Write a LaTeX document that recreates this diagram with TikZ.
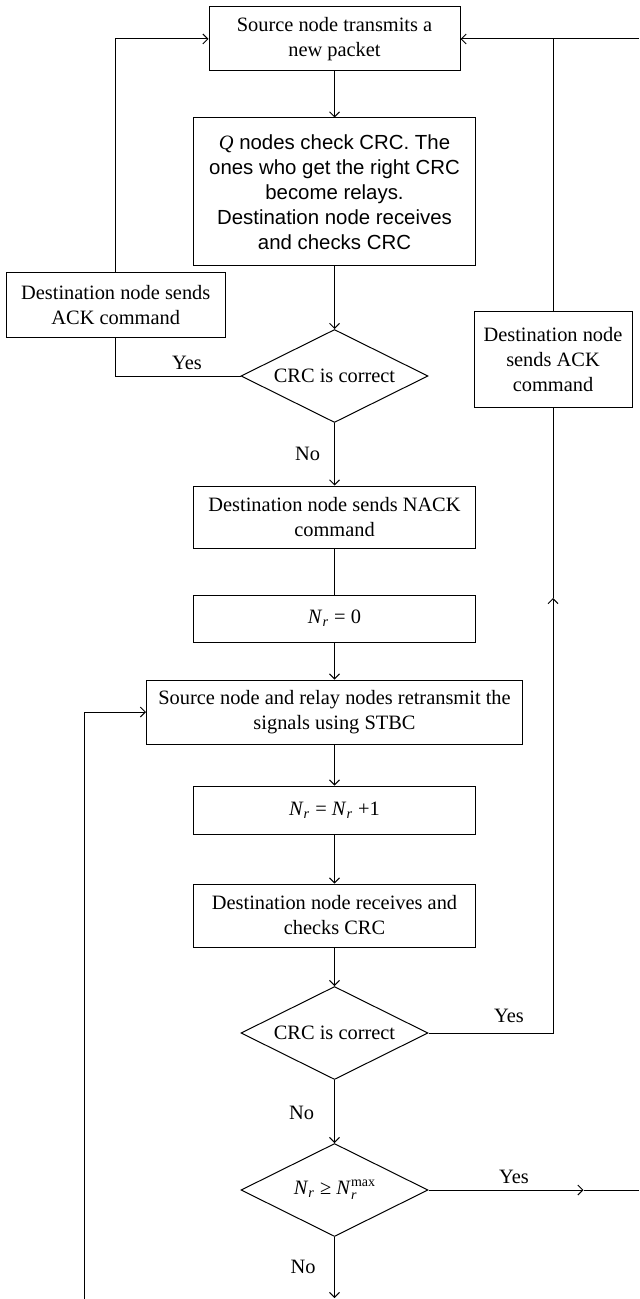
\documentclass[tikz,border=0pt]{standalone}
\usepackage{fontspec}
\setmainfont{Liberation Serif}
\setsansfont{Liberation Sans}
\usetikzlibrary{positioning,shapes.geometric,arrows.meta}

\newcommand{\Nr}{\textit{N}\textsubscript{\textit{r}}}
\newcommand{\Nrmax}{\textit{N}\raisebox{-0.55ex}{\fontsize{7}{5.5}\selectfont\shortstack[l]{max\\\textit{r}}}}

\tikzset{
    box/.style={draw,rectangle,align=center,inner sep=1pt},
    decision/.style={draw,diamond,aspect=2,inner sep=0pt,
        minimum width=93.5pt,minimum height=46.5pt},
}

\begin{document}
\begin{tikzpicture}[x=0.5pt,y=-0.5pt,line width=0.5pt,
        >={Straight Barb[length=2.5pt,width=5pt]},
        every node/.style={font=\fontsize{10.2}{12.5}\selectfont}]
    \useasboundingbox (0,0) rectangle (639,1299);

    % main column
    \node[box,minimum width=125.5pt,minimum height=32pt] (src) at (334.5,39)
        {Source node transmits a\\new packet};
    \node[box,minimum width=141pt,minimum height=74pt,
          font=\fontsize{10.2}{12.5}\selectfont\sffamily] (relay) at (334.5,192)
        {{\rmfamily\itshape Q} nodes check CRC. The\\ones who get the right CRC\\become relays.\\Destination node receives\\and checks CRC};
    \node[decision] (crca) at (334.5,376) {CRC is correct};
    \node[box,minimum width=141pt,minimum height=31pt] (nack) at (334.5,517)
        {Destination node sends NACK\\command};
    \node[box,minimum width=141pt,minimum height=23.5pt] (zero) at (334.5,618.5)
        {\Nr{} = 0};
    \node[box,minimum width=188pt,minimum height=32pt] (stbc) at (334.5,712)
        {Source node and relay nodes retransmit the\\signals using STBC};
    \node[box,minimum width=141pt,minimum height=24pt] (incr) at (334.5,810)
        {\Nr{} = \Nr{} +1};
    \node[box,minimum width=141pt,minimum height=31.5pt] (recv) at (334.5,915.5)
        {Destination node receives and\\checks CRC};
    \node[decision] (crcb) at (334.5,1033) {CRC is correct};
    \node[decision] (limit) at (334.5,1190) {\Nr{} ≥ \Nrmax};

    % side boxes
    \node[box,minimum width=109.25pt,minimum height=32pt] (ackl) at (115.75,305)
        {Destination node sends\\ACK command};
    \node[box,minimum width=79pt,minimum height=47.5pt] (ackr) at (553,359.5)
        {Destination node\\sends ACK\\command};

    % loose ends
    \coordinate (topright) at (639,39);
    \coordinate (upmark) at (553,598);
    \coordinate (outmark) at (583.5,1190);
    \coordinate (outright) at (639,1190);
    \coordinate (bottom) at (334.5,1298);
    \coordinate (loopfoot) at (84,1299);

    % flow
    \draw[->] (src) -- (relay);
    \draw[->] (relay) -- (crca);
    \draw[->] (crca) -- (nack);
    \draw (nack) -- (zero);
    \draw[->] (zero) -- (stbc);
    \draw[->] (stbc) -- (incr);
    \draw[->] (incr) -- (recv);
    \draw[->] (recv) -- (crcb);
    \draw[->] (crcb) -- (limit);
    \draw[->] (limit) -- (bottom);

    % first check passed
    \draw (crca.west) -| (ackl.south);
    \draw[->] (ackl.north) |- (src.west);

    % retransmission succeeded
    \draw[->] (crcb.east) -| (upmark);
    \draw (upmark) -- (ackr.south);
    \draw[->] (ackr.north) |- (src.east);
    \draw (ackr.north |- src.east) -- (topright);

    % retry limit
    \draw[->] (limit.east) -- (outmark);
    \draw (outmark) -- (outright);
    \draw[->] (loopfoot) |- (stbc.west);

    % branch labels
    \node (yesa) at (187,363) {Yes};
    \node (noa) at (307.5,454) {No};
    \node (yesb) at (509,1016) {Yes};
    \node (nob) at (301.5,1113) {No};
    \node (yesc) at (514,1177) {Yes};
    \node (noc) at (303,1267) {No};
\end{tikzpicture}
\end{document}
